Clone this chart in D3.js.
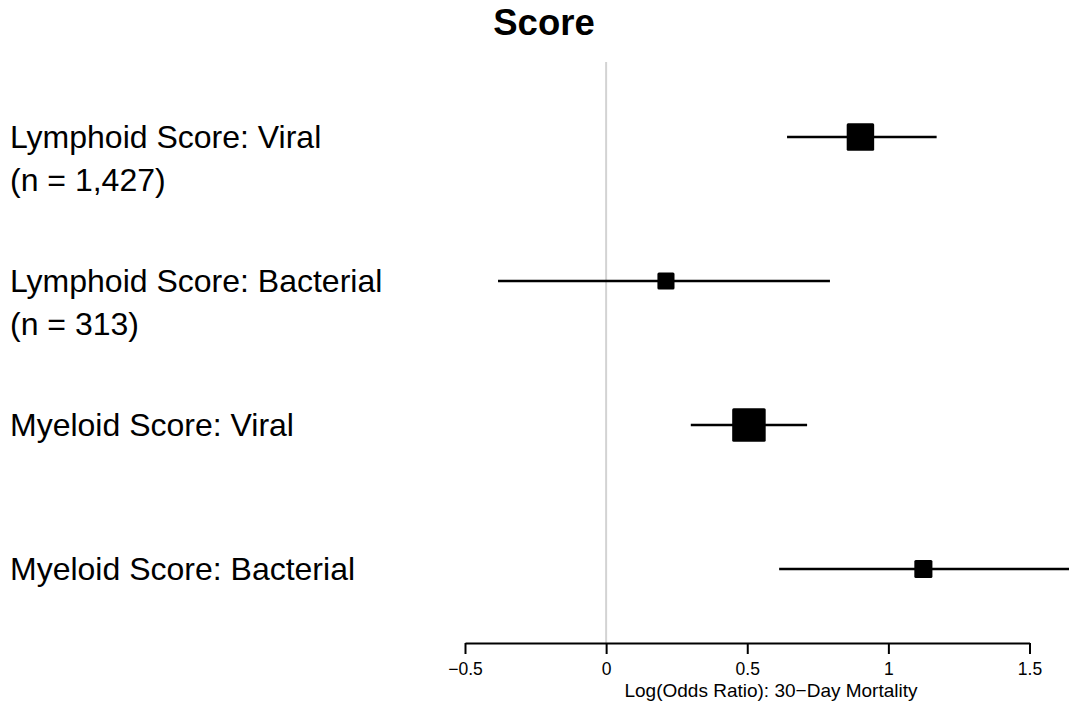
<!DOCTYPE html>
<html>
<head>
<meta charset="utf-8">
<script src="https://cdn.jsdelivr.net/npm/d3@7"></script>
<style>
  html, body { margin: 0; padding: 0; background: #fff; }
  svg { display: block; font-family: "Liberation Sans", Arial, Helvetica, sans-serif; }
</style>
</head>
<body>
<svg id="chart" width="1069" height="706"></svg>
<script>
// Forest plot: log odds ratio of 30-day mortality per score/infection group
const labelLines = [
  ["Lymphoid Score: Viral", "(n = 1,427)"],
  ["Lymphoid Score: Bacterial", "(n = 313)"],
  ["Myeloid Score: Viral"],
  ["Myeloid Score: Bacterial"]
];
const groups = ["lymViral", "lymBact", "myeViral", "myeBact"];
const estimate = [0.901, 0.212, 0.506, 1.124];
const lower    = [0.641, -0.383, 0.300, 0.613];
const upper    = [1.171, 0.793, 0.712, 1.700];
const weight   = [0.82, 0.51, 1.00, 0.54];   // relative precision -> box size
const tickValues = [-0.5, 0, 0.5, 1, 1.5];
const tickLabels = ["\u22120.5", "0", "0.5", "1", "1.5"];
const titleText = "Score";
const axisTitle = "Log(Odds Ratio): 30\u2212Day Mortality";

const svg = d3.select("#chart");
const W = 1069, H = 706;

const x = d3.scaleLinear().domain([-0.5, 1.5]).range([465, 1029.5]);
const y = d3.scalePoint().domain(groups).range([137, 569]);
const box = d3.scaleLinear().domain([0, 1]).range([0, 33.5]);
const axisY = 643;

svg.append("defs").append("clipPath").attr("id", "plotClip")
  .append("rect").attr("x", 0).attr("y", 0).attr("width", W).attr("height", H);

// Title
svg.append("text")
  .attr("x", 544).attr("y", 35)
  .attr("text-anchor", "middle")
  .attr("font-size", 36.5).attr("font-weight", "bold")
  .text(titleText);

// Reference line at zero
svg.append("line")
  .attr("x1", x(0)).attr("x2", x(0))
  .attr("y1", 62).attr("y2", axisY)
  .attr("stroke", "#d3d3d3").attr("stroke-width", 2);

// Row labels
const lab = svg.append("g");
groups.forEach((g, i) => {
  const t = lab.append("text")
    .attr("x", 10).attr("y", y(g) + 11)
    .attr("font-size", 32).attr("fill", "#000");
  labelLines[i].forEach((line, j) => {
    t.append("tspan").attr("x", 10).attr("dy", j === 0 ? 0 : 43).text(line);
  });
});

// Confidence intervals and point estimates
const marks = svg.append("g").attr("clip-path", "url(#plotClip)");
const rows = groups.map((g, i) => ({ g, est: estimate[i], lo: lower[i], hi: upper[i], w: weight[i] }));

marks.selectAll("line.ci").data(rows).join("line")
  .attr("class", "ci")
  .attr("x1", d => x(d.lo)).attr("x2", d => x(d.hi))
  .attr("y1", d => y(d.g)).attr("y2", d => y(d.g))
  .attr("stroke", "#000").attr("stroke-width", 2.5);

marks.selectAll("rect.est").data(rows).join("rect")
  .attr("class", "est")
  .attr("x", d => x(d.est) - box(d.w) / 2)
  .attr("y", d => y(d.g) - box(d.w) / 2)
  .attr("width", d => box(d.w)).attr("height", d => box(d.w))
  .attr("rx", 1.5)
  .attr("fill", "#000");

// X axis
const axis = d3.axisBottom(x)
  .tickValues(tickValues)
  .tickFormat((d, i) => tickLabels[i])
  .tickSizeInner(11).tickSizeOuter(0).tickPadding(9);

const gx = svg.append("g").attr("transform", `translate(0,${axisY})`).call(axis);
gx.select(".domain").attr("stroke", "#000").attr("stroke-width", 2);
gx.selectAll(".tick line").attr("stroke", "#000").attr("stroke-width", 2);
gx.selectAll(".tick text").attr("font-size", 17.5).attr("fill", "#000")
  .attr("font-family", "'Liberation Sans', Arial, sans-serif");

svg.append("text")
  .attr("x", 771).attr("y", 697)
  .attr("text-anchor", "middle")
  .attr("font-size", 19)
  .text(axisTitle);
</script>
</body>
</html>
